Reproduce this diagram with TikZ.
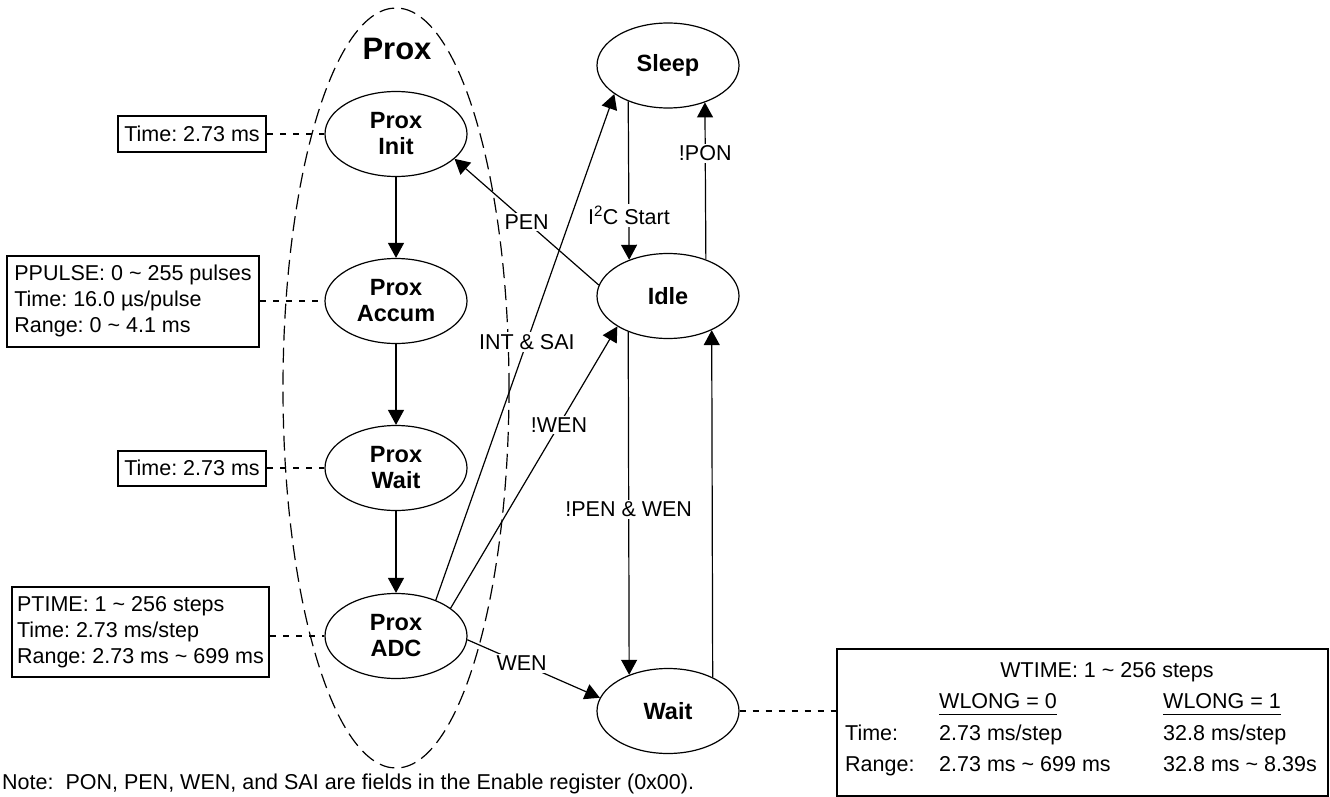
\documentclass[tikz,border=0pt]{standalone}
\usepackage{fontspec}
\setmainfont{Liberation Sans}
\usetikzlibrary{shapes.geometric,arrows.meta}
\begin{document}
\frenchspacing
\begin{tikzpicture}[x=1pt,y=-1pt,
  state/.style={draw, ellipse, line width=1.2pt, minimum width=142pt, minimum height=85pt, inner sep=0pt, align=center, font=\fontsize{23.5}{26}\selectfont\bfseries},
  infobox/.style={draw, line width=2pt, inner sep=0pt, font=\fontsize{21.5}{26}\selectfont\frenchspacing},
  lbl/.style={fill=white, inner sep=2pt, font=\fontsize{21.5}{26}\selectfont\frenchspacing},
  arr/.style={line width=1.2pt, -{Triangle[width=16pt,length=15pt]}},
  link/.style={line width=1.1pt, dash pattern=on 6pt off 7pt},
  txt/.style={inner sep=0pt, font=\fontsize{21.5}{26}\selectfont\frenchspacing}
]
\useasboundingbox (0,0) rectangle (1330,797);

% group
\node[draw, ellipse, dash pattern=on 15pt off 7pt, line width=1.2pt, minimum width=226pt, minimum height=760pt, inner sep=0pt] (grp) at (396,388) {};
\node[font=\fontsize{31}{34}\selectfont\bfseries, inner sep=0pt] (title) at (397,49) {Prox};

% states
\node[state] (init)  at (396,134) {Prox\\Init};
\node[state] (accum) at (396,301) {Prox\\Accum};
\node[state] (pwait) at (396,468) {Prox\\Wait};
\node[state] (adc)   at (396,636) {Prox\\ADC};
\node[state] (sleep) at (668,65.5) {Sleep};
\node[state] (idle)  at (668,296) {Idle};
\node[state] (wait)  at (668,711) {Wait};

% info boxes
\node[infobox, minimum width=148pt, minimum height=35pt] (b1) at (192,134) {Time: 2.73 ms};
\node[infobox, minimum width=252pt, minimum height=91pt, align=left] (b2) at (133,301)
  {PPULSE: 0 \textasciitilde{} 255 pulses\\Time: 16.0 µs/pulse\\Range: 0 \textasciitilde{} 4.1 ms};
\node[infobox, minimum width=148pt, minimum height=35pt] (b3) at (192,468) {Time: 2.73 ms};
\node[infobox, minimum width=257pt, minimum height=90pt, align=left] (b4) at (140.5,632)
  {PTIME: 1 \textasciitilde{} 256 steps\\Time: 2.73 ms/step\\Range: 2.73 ms \textasciitilde{} 699 ms};
\node[infobox, minimum width=491pt, minimum height=147pt] (wbox) at (1082.5,722.5) {};

\node[txt, anchor=base] (wt) at (1107,677) {WTIME: 1 \textasciitilde{} 256 steps};
\node[txt, anchor=base west] (wl0) at (939,708) {\underline{WLONG = 0\vphantom{g}}};
\node[txt, anchor=base west] (wl1) at (1163,708) {\underline{WLONG = 1\vphantom{g}}};
\node[txt, anchor=base west] (tl) at (845,740) {Time:};
\node[txt, anchor=base west] (t0) at (939,740) {2.73 ms/step};
\node[txt, anchor=base west] (t1) at (1163,740) {32.8 ms/step};
\node[txt, anchor=base west] (rl) at (845,771) {Range:};
\node[txt, anchor=base west] (r0) at (939,771) {2.73 ms \textasciitilde{} 699 ms};
\node[txt, anchor=base west] (r1) at (1163,771) {32.8 ms \textasciitilde{} 8.39s};

% dashed links
\draw[link] (b1) -- (init);
\draw[link] (b2) -- (accum);
\draw[link] (b3) -- (pwait);
\draw[link] (adc.west -| b4.east) -- (adc.west);
\draw[link] (wait) -- (wait -| wbox.west);

% transitions
\draw[arr] (init) -- (accum);
\draw[arr] (accum) -- (pwait);
\draw[arr] (pwait) -- (adc);
\draw[arr] (sleep.222.3) -- node[lbl,pos=0.72] {I\textsuperscript{2}C Start} (idle.137.7);
\draw[arr] (idle.44.5) -- node[lbl,pos=0.676] {!PON} (sleep.315.5);
\draw[arr] (idle.171) -- node[lbl,pos=0.5] {PEN} (init.337);
\draw[arr] (adc.42) -- node[lbl,pos=0.51] {INT \& SAI} (sleep.208);
\draw[arr] (adc.27) -- node[lbl,pos=0.65] {!WEN} (idle.211);
\draw[arr] (idle.222.3) -- node[lbl,pos=0.517] {!PEN \& WEN} (wait.137.7);
\draw[arr] (wait.37.2) -- (idle.322.8);
\draw[arr] (adc.357) -- node[lbl,pos=0.41] {WEN} (wait.169);

% note
\node[txt, anchor=base west] (note) at (2,789) {Note:\ \ PON, PEN, WEN, and SAI are fields in the Enable register (0x00).};
\end{tikzpicture}
\end{document}
